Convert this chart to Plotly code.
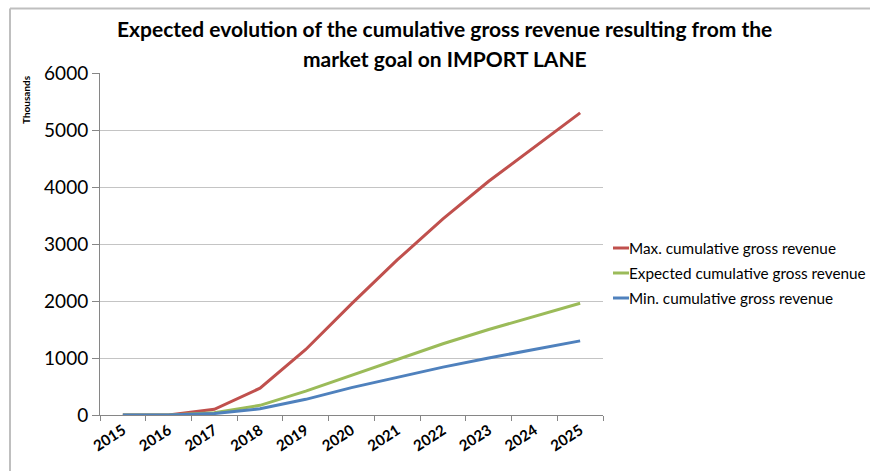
import plotly.graph_objects as go

# Years on the category axis
years = ["2015", "2016", "2017", "2018", "2019", "2020",
         "2021", "2022", "2023", "2024", "2025"]

# Cumulative gross revenue, in thousands
max_revenue = [0, 0, 100, 470, 1150, 1950, 2720, 3440, 4100, 4700, 5300]
expected_revenue = [0, 0, 40, 170, 420, 700, 980, 1250, 1500, 1730, 1960]
min_revenue = [0, 0, 25, 110, 275, 480, 660, 840, 1000, 1150, 1300]

series_names = ["Max. cumulative gross revenue",
                "Expected cumulative gross revenue",
                "Min. cumulative gross revenue"]
series_values = [max_revenue, expected_revenue, min_revenue]
series_colors = ["#C0504D", "#9BBB59", "#4F81BD"]

y_ticks = [0, 1000, 2000, 3000, 4000, 5000, 6000]

W, H = 870, 471
ML, MR, MT, MB = 100, 267, 73, 56
PW, PH = W - ML - MR, H - MT - MB


def px_x(p):
    return (p - ML) / PW


def px_y(p):
    return (H - MB - p) / PH


fig = go.Figure()
for name, vals, col in zip(series_names, series_values, series_colors):
    fig.add_trace(go.Scatter(x=years, y=vals, name=name, mode="lines",
                             line=dict(color=col, width=3),
                             showlegend=False))

axis_col = "#868686"
fig.update_layout(
    width=W, height=H, autosize=False,
    margin=dict(l=ML, r=MR, t=MT, b=MB),
    paper_bgcolor="white", plot_bgcolor="white",
    font=dict(family="Lato", color="black"),
    xaxis=dict(type="category", categoryorder="array", categoryarray=years,
               range=[-0.5, len(years) - 0.5], tickson="boundaries",
               ticks="outside", ticklen=5, tickcolor=axis_col,
               showline=True, linecolor=axis_col, linewidth=1,
               showgrid=False, tickangle=-33,
               tickfont=dict(family="Lato", size=15, weight="bold")),
    yaxis=dict(range=[0, 6000], tickvals=y_ticks,
               ticks="outside", ticklen=7, tickcolor=axis_col,
               showline=True, linecolor=axis_col, linewidth=1,
               showgrid=True, gridcolor="#c4c4c4", gridwidth=1,
               zeroline=False,
               tickfont=dict(family="Lato", size=19)),
)

# Title, two centred lines
title_lines = ["Expected evolution of the cumulative gross revenue resulting from the",
               "market goal on IMPORT LANE"]
for txt, yc in zip(title_lines, [29, 58]):
    fig.add_annotation(text=txt, xref="paper", yref="paper",
                       x=px_x(444.5), y=px_y(yc), showarrow=False,
                       xanchor="center", yanchor="middle",
                       font=dict(family="Lato", size=21, weight="bold"))

# Unit label beside the value axis
fig.add_annotation(text="Thousands", xref="paper", yref="paper",
                   x=px_x(26), y=px_y(100), showarrow=False, textangle=-90,
                   xanchor="center", yanchor="middle",
                   font=dict(family="Lato", size=10, weight="bold"))

# Legend: short line sample plus series name
for i, (name, col) in enumerate(zip(series_names, series_colors)):
    yc = 248 + i * 25
    fig.add_shape(type="line", xref="paper", yref="paper",
                  x0=px_x(613), x1=px_x(629), y0=px_y(yc), y1=px_y(yc),
                  line=dict(color=col, width=3))
    fig.add_annotation(text=name, xref="paper", yref="paper",
                       x=px_x(627), y=px_y(yc), showarrow=False,
                       xanchor="left", yanchor="middle",
                       font=dict(family="Lato", size=15.3))

# Chart frame edges (left and top)
frame = dict(color="#bfbfbf", width=2)
fig.add_shape(type="line", xref="paper", yref="paper",
              x0=px_x(10), x1=px_x(10), y0=px_y(8.5), y1=px_y(H + 2), line=frame)
fig.add_shape(type="line", xref="paper", yref="paper",
              x0=px_x(10), x1=px_x(W + 2), y0=px_y(8.5), y1=px_y(8.5), line=frame)

fig.write_html("out.html")
